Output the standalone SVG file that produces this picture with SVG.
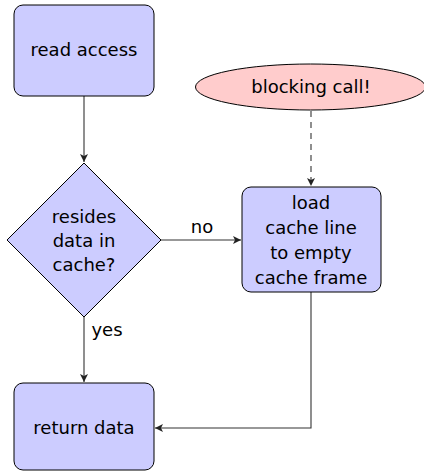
<svg xmlns="http://www.w3.org/2000/svg" width="424" height="473" viewBox="0 0 424 473">
  <style>
    .block { fill: #ccccff; stroke: #000; stroke-width: 1; }
    .start { fill: #ffcccc; stroke: #000; stroke-width: 1; }
    .label { font-family: "DejaVu Sans", sans-serif; font-size: 18px; fill: #000; text-anchor: middle; }
    .edge { fill: none; stroke: #333; stroke-width: 1.1; }
    .dashed { stroke-dasharray: 6 5; }
  </style>
  <defs>
    <marker id="arrow" viewBox="0 0 10 10" refX="10" refY="5" markerWidth="8" markerHeight="8" markerUnits="userSpaceOnUse" orient="auto">
      <path d="M0,0 L10,5 L0,10 L2.5,5 Z" fill="#222"/>
    </marker>
  </defs>

  <rect width="424" height="473" fill="#fff"/>

  <!-- connectors -->
  <g id="connectors">
    <path class="edge" d="M84,96 L84,162" marker-end="url(#arrow)"/>
    <path class="edge" d="M161,240 L241,240" marker-end="url(#arrow)"/>
    <text class="label" x="202" y="233">no</text>
    <path class="edge" d="M84,317 L84,382" marker-end="url(#arrow)"/>
    <text class="label" x="107" y="336">yes</text>
    <path class="edge dashed" d="M311,111 L311,186" marker-end="url(#arrow)"/>
    <path class="edge" d="M311,292 L311,428 L155,428" marker-end="url(#arrow)"/>
  </g>

  <!-- nodes -->
  <g id="read-access">
    <rect class="block" x="14" y="5" width="140" height="91" rx="9"/>
    <text class="label" x="84" y="56">read access</text>
  </g>

  <g id="in-cache">
    <polygon class="block" points="84,163 161,240 84,317 7,240"/>
    <text class="label" x="84" y="223">resides</text>
    <text class="label" x="84" y="247">data in</text>
    <text class="label" x="84" y="271">cache?</text>
  </g>

  <g id="blocking-call">
    <ellipse class="start" cx="310.5" cy="87" rx="115" ry="23"/>
    <text class="label" x="311" y="93">blocking call!</text>
  </g>

  <g id="load-line">
    <rect class="block" x="242" y="187" width="139" height="105" rx="9"/>
    <text class="label" x="311" y="209">load</text>
    <text class="label" x="311" y="234">cache line</text>
    <text class="label" x="311" y="259">to empty</text>
    <text class="label" x="311" y="284">cache frame</text>
  </g>

  <g id="return-data">
    <rect class="block" x="14" y="383" width="140" height="87" rx="9"/>
    <text class="label" x="84" y="434">return data</text>
  </g>
</svg>
